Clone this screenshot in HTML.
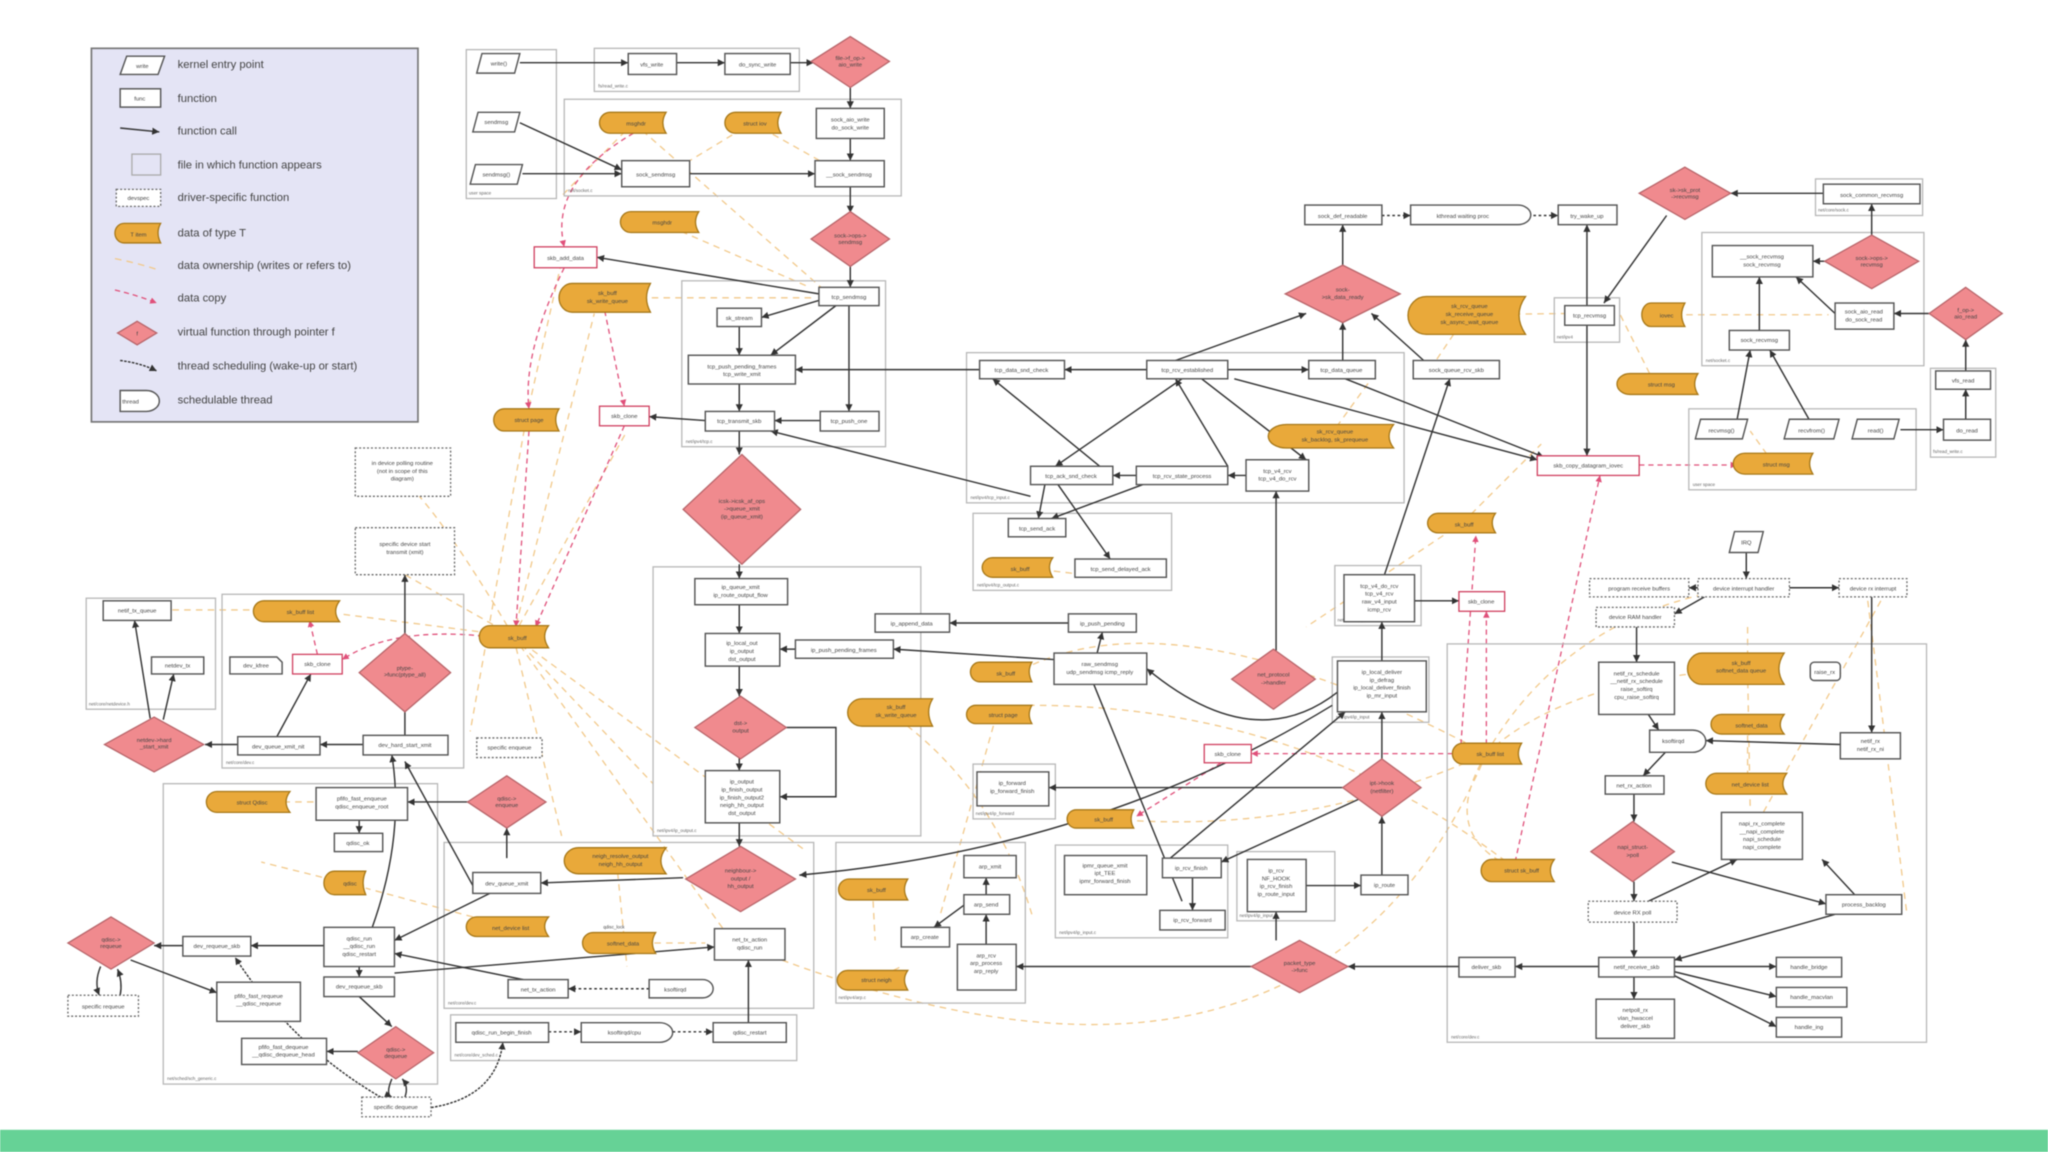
<!DOCTYPE html>
<html><head><meta charset="utf-8"><style>
html,body{margin:0;padding:0;background:#fff;width:2048px;height:1152px;overflow:hidden}
svg{display:block;filter:blur(0.6px)}
.b{fill:#fff;stroke:#555;stroke-width:1.1}
.r{fill:#fff;stroke:#d04060;stroke-width:1}
.dt{fill:#fff;stroke:#666;stroke-width:1;stroke-dasharray:1.5 1.5}
.c{fill:none;stroke:#b8b8b8;stroke-width:1}
.d{fill:#e9a93a;stroke:#a77818;stroke-width:1}
.v{fill:#f08a8e;stroke:#b8656a;stroke-width:1}
.p{fill:#fff;stroke:#555;stroke-width:1.1}
.l{stroke:#333;stroke-width:1.1;fill:none;marker-end:url(#a)}
.o{stroke:#f2c98a;stroke-width:1;fill:none;stroke-dasharray:5 4}
.x{stroke:#e0507a;stroke-width:1;fill:none;stroke-dasharray:4 3;marker-end:url(#ar)}
text{font-family:"Liberation Sans",sans-serif;font-size:4.5px;fill:#444;text-anchor:middle}
.lg{font-size:8.6px;text-anchor:start;fill:#444}
.cl{font-size:3.5px;text-anchor:start;fill:#666}
</style></head><body>
<svg width="2048" height="1152" viewBox="0 0 1568 882" xmlns="http://www.w3.org/2000/svg">
<defs>
<marker id="a" markerWidth="6" markerHeight="6" refX="5" refY="3" orient="auto"><path d="M0,0.5 L5,3 L0,5.5z" fill="#333"/></marker>
<marker id="ar" markerWidth="6" markerHeight="6" refX="5" refY="3" orient="auto"><path d="M0,0.5 L5,3 L0,5.5z" fill="#e0507a"/></marker>
</defs>
<rect width="1568" height="882" fill="#fff"/>
<rect x="0" y="865" width="1568" height="17" fill="#66d296"/>

<!-- Legend -->
<rect x="70" y="37" width="250" height="286" fill="#e4e4f5" stroke="#777" stroke-width="1.3"/>
<polygon points="92,57 121,57 126,43 97,43" class="p"/><text x="109" y="52">write</text>
<text class="lg" x="136" y="52">kernel entry point</text>
<rect x="92" y="68" width="31" height="14" class="b"/><text x="107" y="77">func</text>
<text class="lg" x="136" y="78">function</text>
<line x1="92" y1="98" x2="122" y2="101" class="l"/>
<text class="lg" x="136" y="103">function call</text>
<rect x="101" y="118" width="22" height="16" fill="none" stroke="#aaa"/>
<text class="lg" x="136" y="129">file in which function appears</text>
<rect x="89" y="145" width="34" height="13" class="dt"/><text x="106" y="153">devspec</text>
<text class="lg" x="136" y="154">driver-specific function</text>
<path d="M95,171 H123 Q119,178 123,186 H95 A7,7.5 0 0 1 95,171z" class="d"/><text x="106" y="181">T item</text>
<text class="lg" x="136" y="181">data of type T</text>
<path d="M88,198 Q108,202 122,207" class="o"/>
<text class="lg" x="136" y="206">data ownership (writes or refers to)</text>
<path d="M88,222 Q105,226 120,232" class="x"/>
<text class="lg" x="136" y="231">data copy</text>
<polygon points="105,246 120,255 105,264 90,255" class="v"/><text x="105" y="257">f</text>
<text class="lg" x="136" y="257">virtual function through pointer f</text>
<path d="M92,276 Q108,278 120,284" class="l" stroke-dasharray="2 1"/>
<text class="lg" x="136" y="283">thread scheduling (wake-up or start)</text>
<path d="M92,299 H112 A10,8 0 0 1 112,315 H92z" class="b"/><text x="100" y="309">thread</text>
<text class="lg" x="136" y="309">schedulable thread</text>

<!-- ownership dashed lines (background) -->
<g>
<path d="M393,487 Q330,380 300,360" class="o"/><path d="M393,487 L480,330" class="o"/><path d="M393,487 L455,240" class="o"/>
<path d="M393,487 L310,440" class="o"/><path d="M393,487 L500,600" class="o"/><path d="M393,487 L560,720" class="o"/>
<path d="M393,487 L260,470" class="o"/><path d="M393,487 L430,640" class="o"/><path d="M393,487 L615,650" class="o"/>
<path d="M403,320 L430,200" class="o"/><path d="M403,320 L360,560" class="o"/>
<path d="M485,94 L430,150" class="o"/><path d="M485,94 L640,230" class="o"/><path d="M576,94 L500,140" class="o"/><path d="M576,94 L640,130" class="o"/>
<path d="M505,170 L620,220" class="o"/><path d="M463,228 L625,228" class="o"/>
<path d="M1123,241 L1090,290" class="o"/><path d="M1123,241 L1200,240" class="o"/><path d="M1273,241 L1400,241" class="o"/>
<path d="M1018,334 L1050,290" class="o"/><path d="M1267,294 L1240,240" class="o"/>
<path d="M1138,577 Q1200,470 1330,450" class="o"/><path d="M1138,577 Q1200,520 1330,513" class="o"/><path d="M1138,577 Q1100,640 1160,665" class="o"/>
<path d="M1138,577 Q900,450 780,514" class="o"/><path d="M1138,577 Q1000,640 850,627" class="o"/><path d="M1138,577 Q1000,900 560,720" class="o"/>
<path d="M1160,665 Q1000,540 790,540" class="o"/><path d="M1120,400 L1180,340" class="o"/><path d="M1120,400 L1000,480" class="o"/>
<path d="M1338,513 L1340,620" class="o"/><path d="M1338,554 L1338,600" class="o"/><path d="M1338,480 L1338,500" class="o"/>
<path d="M1440,460 L1340,640" class="o"/><path d="M1430,460 L1460,700" class="o"/>
<path d="M668,681 L670,720" class="o"/><path d="M668,751 L690,740" class="o"/><path d="M472,659 L480,740" class="o"/><path d="M474,722 L540,722" class="o"/>
<path d="M388,709 L280,680" class="o"/><path d="M264,676 L200,660" class="o"/><path d="M190,614 L240,614" class="o"/>
<path d="M227,467 L110,467" class="o"/><path d="M780,434 L830,440" class="o"/><path d="M1358,355 L1340,330" class="o"/>
<path d="M680,545 Q760,600 790,700" class="o"/><path d="M763,547 L720,700" class="o"/>
</g>

<!-- data copy lines -->
<path d="M485,102 Q420,140 432,189" class="x"/>
<path d="M432,205 Q400,270 405,313" class="x"/>
<path d="M463,238 L478,311" class="x"/>
<path d="M478,326 L410,480" class="x"/>
<path d="M405,330 L395,480" class="x"/>
<path d="M370,487 Q300,480 262,505" class="x"/>
<path d="M243,501 L237,475" class="x"/>
<path d="M1255,356 L1330,356" class="x"/>
<path d="M1138,577 L1138,468" class="x"/><path d="M1118,577 L1130,410" class="x"/>
<path d="M1112,577 L958,577" class="x"/><path d="M935,584 L870,625" class="x"/>
<path d="M1160,660 L1225,364" class="x"/>

<!-- clusters -->
<rect x="357" y="38" width="69" height="114" class="c"/><text class="cl" x="359" y="149">user space</text>
<rect x="455" y="37" width="157" height="33" class="c"/><text class="cl" x="458" y="67">fs/read_write.c</text>
<rect x="432" y="76" width="258" height="74" class="c"/><text class="cl" x="435" y="147">net/socket.c</text>
<rect x="522" y="215" width="156" height="127" class="c"/><text class="cl" x="525" y="339">net/ipv4/tcp.c</text>
<rect x="740" y="270" width="335" height="115" class="c"/><text class="cl" x="743" y="382">net/ipv4/tcp_input.c</text>
<rect x="745" y="393" width="152" height="59" class="c"/><text class="cl" x="748" y="449">net/ipv4/tcp_output.c</text>
<rect x="1190" y="228" width="50" height="34" class="c"/><text class="cl" x="1192" y="259">net/ipv4</text>
<rect x="1390" y="137" width="82" height="28" class="c"/><text class="cl" x="1392" y="162">net/core/sock.c</text>
<rect x="1303" y="178" width="170" height="102" class="c"/><text class="cl" x="1306" y="277">net/socket.c</text>
<rect x="1478" y="282" width="50" height="68" class="c"/><text class="cl" x="1480" y="347">fs/read_write.c</text>
<rect x="1293" y="313" width="174" height="62" class="c"/><text class="cl" x="1296" y="372">user space</text>
<rect x="500" y="434" width="205" height="206" class="c"/><text class="cl" x="503" y="637">net/ipv4/ip_output.c</text>
<rect x="1022" y="433" width="66" height="46" class="c"/><text class="cl" x="1024" y="476">net/ipv4/tcp_ipv4.c</text>
<rect x="1020" y="503" width="74" height="50" class="c"/><text class="cl" x="1023" y="550">net/ipv4/ip_input</text>
<rect x="745" y="585" width="63" height="42" class="c"/><text class="cl" x="747" y="624">net/ipv4/ip_forward</text>
<rect x="808" y="647" width="132" height="71" class="c"/><text class="cl" x="811" y="715">net/ipv4/ip_input.c</text>
<rect x="947" y="652" width="75" height="53" class="c"/><text class="cl" x="949" y="702">net/ipv4/ip_input</text>
<rect x="640" y="645" width="145" height="123" class="c"/><text class="cl" x="642" y="765">net/ipv4/arp.c</text>
<rect x="340" y="645" width="283" height="127" class="c"/><text class="cl" x="343" y="769">net/core/dev.c</text>
<rect x="345" y="777" width="265" height="35" class="c"/><text class="cl" x="348" y="809">net/core/dev_sched.c</text>
<rect x="125" y="600" width="210" height="230" class="c"/><text class="cl" x="128" y="827">net/sched/sch_generic.c</text>
<rect x="66" y="458" width="99" height="85" class="c"/><text class="cl" x="68" y="540">net/core/netdevice.h</text>
<rect x="170" y="455" width="185" height="133" class="c"/><text class="cl" x="173" y="585">net/core/dev.c</text>
<rect x="1108" y="493" width="367" height="305" class="c"/><text class="cl" x="1111" y="795">net/core/dev.c</text>

<!-- connectors (function calls) -->
<line x1="398" y1="48" x2="481" y2="48" class="l"/><line x1="518" y1="48" x2="555" y2="48" class="l"/><line x1="605" y1="48" x2="623" y2="48" class="l"/>
<line x1="651" y1="67" x2="651" y2="83" class="l"/><line x1="651" y1="106" x2="651" y2="123" class="l"/>
<line x1="398" y1="94" x2="476" y2="130" class="l"/><line x1="400" y1="133" x2="476" y2="133" class="l"/><line x1="528" y1="133" x2="624" y2="133" class="l"/>
<line x1="651" y1="143" x2="651" y2="163" class="l"/><line x1="651" y1="203" x2="651" y2="220" class="l"/>
<line x1="627" y1="225" x2="457" y2="197" class="l"/><line x1="627" y1="230" x2="583" y2="243" class="l"/><line x1="640" y1="234" x2="590" y2="272" class="l"/>
<line x1="650" y1="234" x2="650" y2="315" class="l"/><line x1="566" y1="250" x2="566" y2="272" class="l"/><line x1="566" y1="294" x2="566" y2="315" class="l"/>
<line x1="628" y1="322" x2="593" y2="322" class="l"/><line x1="540" y1="322" x2="497" y2="319" class="l"/><line x1="750" y1="283" x2="609" y2="283" class="l"/>
<line x1="566" y1="330" x2="566" y2="348" class="l"/><line x1="566" y1="432" x2="566" y2="443" class="l"/>
<line x1="789" y1="380" x2="590" y2="330" class="l"/>
<line x1="878" y1="283" x2="815" y2="283" class="l"/><line x1="940" y1="283" x2="1002" y2="283" class="l"/>
<line x1="900" y1="276" x2="1000" y2="240" class="l"/><line x1="1028" y1="276" x2="1028" y2="247" class="l"/><line x1="1090" y1="276" x2="1050" y2="240" class="l"/>
<line x1="1028" y1="203" x2="1028" y2="172" class="l"/><line x1="1058" y1="165" x2="1080" y2="165" class="l" stroke-dasharray="2 2"/><line x1="1170" y1="165" x2="1193" y2="165" class="l" stroke-dasharray="2 2"/>
<line x1="1215" y1="234" x2="1215" y2="172" class="l"/><line x1="1215" y1="249" x2="1215" y2="349" class="l"/>
<line x1="1276" y1="165" x2="1228" y2="232" class="l"/><line x1="1396" y1="148" x2="1325" y2="148" class="l"/>
<line x1="1433" y1="180" x2="1433" y2="156" class="l"/><line x1="1397" y1="200" x2="1388" y2="200" class="l"/>
<line x1="1405" y1="240" x2="1375" y2="212" class="l"/><line x1="1347" y1="253" x2="1347" y2="212" class="l"/>
<line x1="1477" y1="240" x2="1450" y2="240" class="l"/><line x1="1505" y1="284" x2="1505" y2="260" class="l"/><line x1="1505" y1="321" x2="1505" y2="298" class="l"/>
<line x1="1455" y1="329" x2="1488" y2="329" class="l"/><line x1="1330" y1="321" x2="1340" y2="268" class="l"/><line x1="1385" y1="321" x2="1355" y2="268" class="l"/>
<line x1="905" y1="290" x2="808" y2="357" class="l"/><line x1="920" y1="290" x2="1000" y2="352" class="l"/><line x1="945" y1="290" x2="1177" y2="352" class="l"/>
<line x1="1030" y1="290" x2="1182" y2="350" class="l"/>
<line x1="870" y1="364" x2="852" y2="364" class="l"/><line x1="954" y1="364" x2="940" y2="364" class="l"/>
<line x1="842" y1="357" x2="760" y2="290" class="l"/><line x1="940" y1="357" x2="900" y2="290" class="l"/>
<line x1="875" y1="371" x2="805" y2="397" class="l"/><line x1="800" y1="371" x2="795" y2="397" class="l"/><line x1="810" y1="371" x2="850" y2="428" class="l"/>
<line x1="977" y1="498" x2="977" y2="376" class="l"/>
<line x1="1060" y1="440" x2="1110" y2="290" class="l"/><line x1="1083" y1="460" x2="1117" y2="460" class="l"/>
<line x1="566" y1="463" x2="566" y2="485" class="l"/><line x1="609" y1="497" x2="597" y2="497" class="l"/><line x1="566" y1="510" x2="566" y2="533" class="l"/>
<path d="M602,557 H640 V610 H597" class="l"/><line x1="566" y1="580" x2="566" y2="590" class="l"/><line x1="566" y1="630" x2="566" y2="648" class="l"/>
<line x1="818" y1="477" x2="727" y2="477" class="l"/><line x1="807" y1="505" x2="684" y2="497" class="l"/><line x1="840" y1="500" x2="844" y2="484" class="l"/>
<path d="M1024,530 Q960,580 878,512" class="l"/>
<line x1="1058" y1="581" x2="1058" y2="545" class="l"/><line x1="1058" y1="506" x2="1058" y2="476" class="l"/>
<line x1="1028" y1="603" x2="803" y2="603" class="l"/><line x1="1040" y1="612" x2="935" y2="660" class="l"/>
<line x1="1058" y1="670" x2="1058" y2="625" class="l"/><line x1="1000" y1="678" x2="1042" y2="678" class="l"/>
<line x1="905" y1="690" x2="835" y2="518" class="l"/>
<line x1="890" y1="662" x2="1030" y2="545" class="l"/><line x1="913" y1="672" x2="913" y2="697" class="l"/>
<line x1="977" y1="720" x2="977" y2="698" class="l"/>
<line x1="1117" y1="740" x2="1032" y2="740" class="l"/><line x1="958" y1="740" x2="778" y2="740" class="l"/>
<line x1="1224" y1="740" x2="1160" y2="740" class="l"/>
<path d="M523,672 L414,676" class="l"/>
<line x1="755" y1="723" x2="755" y2="700" class="l"/><line x1="755" y1="685" x2="755" y2="672" class="l"/><line x1="738" y1="693" x2="715" y2="710" class="l"/>
<line x1="362" y1="678" x2="310" y2="583" class="l"/><line x1="375" y1="684" x2="302" y2="720" class="l"/><line x1="388" y1="657" x2="388" y2="634" class="l"/>
<path d="M285,710 Q310,640 300,578" class="l"/>
<line x1="359" y1="614" x2="312" y2="614" class="l"/><line x1="275" y1="628" x2="275" y2="638" class="l"/>
<line x1="248" y1="724" x2="192" y2="724" class="l"/><line x1="140" y1="724" x2="118" y2="724" class="l"/>
<line x1="275" y1="740" x2="275" y2="748" class="l"/><line x1="275" y1="763" x2="300" y2="786" class="l"/><line x1="274" y1="805" x2="250" y2="805" class="l"/>
<line x1="100" y1="735" x2="166" y2="760" class="l"/>
<path d="M300,826 Q295,838 300,840" class="l"/><path d="M310,840 Q313,832 308,826" class="l"/>
<path d="M77,740 Q72,752 76,762" class="l"/><path d="M92,762 Q94,752 90,742" class="l"/>
<line x1="435" y1="757" x2="302" y2="730" class="l"/><line x1="497" y1="757" x2="435" y2="757" class="l" stroke-dasharray="2 2"/>
<path d="M302,745 Q420,735 547,725" class="l"/><line x1="573" y1="783" x2="573" y2="735" class="l"/>
<line x1="420" y1="790" x2="445" y2="790" class="l" stroke-dasharray="2 2"/><line x1="515" y1="790" x2="546" y2="790" class="l" stroke-dasharray="2 2"/>
<path d="M330,848 Q380,840 385,798" class="l" stroke-dasharray="2 1"/>
<path d="M310,850 Q230,810 180,733" class="l" stroke-dasharray="2 1"/>
<line x1="310" y1="563" x2="310" y2="440" class="l"/>
<line x1="278" y1="570" x2="245" y2="570" class="l"/><line x1="182" y1="570" x2="157" y2="570" class="l"/>
<line x1="212" y1="564" x2="238" y2="516" class="l"/><line x1="115" y1="550" x2="103" y2="475" class="l"/><line x1="125" y1="551" x2="133" y2="516" class="l"/>
<line x1="1337" y1="423" x2="1337" y2="443" class="l"/><line x1="1370" y1="450" x2="1408" y2="450" class="l"/><line x1="1300" y1="450" x2="1293" y2="450" class="l"/>
<line x1="1305" y1="457" x2="1282" y2="470" class="l"/><line x1="1253" y1="480" x2="1253" y2="507" class="l"/>
<line x1="1433" y1="457" x2="1433" y2="561" class="l"/><line x1="1409" y1="570" x2="1306" y2="567" class="l"/>
<line x1="1262" y1="547" x2="1270" y2="559" class="l"/><line x1="1275" y1="576" x2="1258" y2="594" class="l"/>
<line x1="1251" y1="608" x2="1251" y2="629" class="l"/><line x1="1251" y1="675" x2="1251" y2="690" class="l"/><line x1="1251" y1="706" x2="1251" y2="733" class="l"/>
<line x1="1280" y1="660" x2="1398" y2="692" class="l"/><line x1="1262" y1="690" x2="1330" y2="658" class="l"/><line x1="1420" y1="685" x2="1395" y2="658" class="l"/>
<line x1="1405" y1="700" x2="1282" y2="735" class="l"/>
<line x1="1282" y1="740" x2="1360" y2="740" class="l"/><line x1="1282" y1="744" x2="1360" y2="763" class="l"/><line x1="1282" y1="747" x2="1360" y2="786" class="l"/>
<line x1="1251" y1="748" x2="1251" y2="765" class="l"/>
<path d="M1020,540 Q840,650 612,670" class="l"/>

<!-- top-left nodes -->
<polygon points="365,56 394,56 398,41 369,41" class="p"/><text x="382" y="50">write()</text>
<polygon points="362,101 394,101 398,86 366,86" class="p"/><text x="380" y="95">sendmsg</text>
<polygon points="360,141 396,141 400,126 364,126" class="p"/><text x="380" y="135">sendmsg()</text>
<rect x="481" y="41" width="37" height="16" class="b"/><text x="499" y="51">vfs_write</text>
<rect x="555" y="41" width="50" height="16" class="b"/><text x="580" y="51">do_sync_write</text>
<polygon points="651,28 681,47 651,67 621,47" class="v"/><text x="651" y="46">file-&gt;f_op-&gt;</text><text x="651" y="51">aio_write</text>
<path d="M467,86 H510 Q505,94 510,102 H467 A8,8 0 0 1 467,86z" class="d"/><text x="487" y="96">msghdr</text>
<path d="M563,86 H598 Q593,94 598,102 H563 A8,8 0 0 1 563,86z" class="d"/><text x="578" y="96">struct iov</text>
<rect x="625" y="83" width="52" height="23" class="b"/><text x="651" y="93">sock_aio_write</text><text x="651" y="99">do_sock_write</text>
<rect x="476" y="123" width="52" height="20" class="b"/><text x="502" y="135">sock_sendmsg</text>
<rect x="624" y="123" width="53" height="20" class="b"/><text x="650" y="135">__sock_sendmsg</text>
<polygon points="651,162 681,183 651,204 621,183" class="v"/><text x="651" y="182">sock-&gt;ops-&gt;</text><text x="651" y="187">sendmsg</text>
<path d="M483,162 H535 Q530,170 535,178 H483 A8,8 0 0 1 483,162z" class="d"/><text x="507" y="172">msghdr</text>
<rect x="409" y="189" width="48" height="16" class="r"/><text x="433" y="199">skb_add_data</text>
<path d="M438,217 H498 Q492,228 498,239 H438 A10,11 0 0 1 438,217z" class="d"/><text x="465" y="226">sk_buff</text><text x="465" y="232">sk_write_queue</text>
<rect x="627" y="220" width="46" height="14" class="b"/><text x="650" y="229">tcp_sendmsg</text>
<rect x="549" y="236" width="34" height="14" class="b"/><text x="566" y="245">sk_stream</text>
<rect x="527" y="272" width="82" height="22" class="b"/><text x="568" y="282">tcp_push_pending_frames</text><text x="568" y="288">tcp_write_xmit</text>
<rect x="540" y="315" width="53" height="15" class="b"/><text x="566" y="324">tcp_transmit_skb</text>
<rect x="628" y="315" width="45" height="15" class="b"/><text x="650" y="324">tcp_push_one</text>
<path d="M386,313 H428 Q423,321 428,330 H386 A8,8.5 0 0 1 386,313z" class="d"/><text x="405" y="323">struct page</text>
<rect x="459" y="311" width="38" height="15" class="r"/><text x="478" y="320">skb_clone</text>
<polygon points="568,348 613,390 568,432 523,390" class="v"/><text x="568" y="385">icsk-&gt;icsk_af_ops</text><text x="568" y="391">-&gt;queue_xmit</text><text x="568" y="397">(ip_queue_xmit)</text>
<rect x="272" y="343" width="73" height="37" class="dt"/><text x="308" y="356">in device polling routine</text><text x="308" y="362">(not in scope of this</text><text x="308" y="368">diagram)</text>
<rect x="272" y="404" width="76" height="36" class="dt"/><text x="310" y="418">specific device start</text><text x="310" y="424">transmit (xmit)</text>

<!-- tcp input cluster -->
<rect x="750" y="276" width="65" height="14" class="b"/><text x="782" y="285">tcp_data_snd_check</text>
<rect x="878" y="276" width="62" height="14" class="b"/><text x="909" y="285">tcp_rcv_established</text>
<rect x="1002" y="276" width="51" height="14" class="b"/><text x="1027" y="285">tcp_data_queue</text>
<rect x="1082" y="276" width="66" height="14" class="b"/><text x="1115" y="285">sock_queue_rcv_skb</text>
<rect x="789" y="357" width="63" height="14" class="b"/><text x="820" y="366">tcp_ack_snd_check</text>
<rect x="870" y="357" width="70" height="14" class="b"/><text x="905" y="366">tcp_rcv_state_process</text>
<rect x="954" y="352" width="48" height="24" class="b"/><text x="978" y="362">tcp_v4_rcv</text><text x="978" y="368">tcp_v4_do_rcv</text>
<path d="M985,325 H1067 Q1060,334 1067,343 H985 A14,9 0 0 1 985,325z" class="d"/><text x="1022" y="332">sk_rcv_queue</text><text x="1022" y="338">sk_backlog, sk_prequeue</text>
<rect x="772" y="397" width="44" height="14" class="b"/><text x="794" y="406">tcp_send_ack</text>
<rect x="823" y="428" width="70" height="14" class="b"/><text x="858" y="437">tcp_send_delayed_ack</text>
<path d="M760,427 H806 Q801,434 806,442 H760 A8,7.5 0 0 1 760,427z" class="d"/><text x="781" y="437">sk_buff</text>
<polygon points="1028,203 1072,225 1028,247 984,225" class="v"/><text x="1028" y="223">sock-</text><text x="1028" y="229">&gt;sk_data_ready</text>
<rect x="999" y="157" width="59" height="15" class="b"/><text x="1028" y="167">sock_def_readable</text>
<path d="M1080,157 H1162 A10,7.5 0 0 1 1162,172 H1080z" class="b"/><text x="1120" y="167">kthread waiting proc</text>
<rect x="1193" y="157" width="45" height="15" class="b"/><text x="1215" y="167">try_wake_up</text>
<path d="M1092,227 H1168 Q1158,241 1168,256 H1092 A14,14.5 0 0 1 1092,227z" class="d"/><text x="1125" y="236">sk_rcv_queue</text><text x="1125" y="242">sk_receive_queue</text><text x="1125" y="248">sk_async_wait_queue</text>
<rect x="1198" y="234" width="38" height="15" class="b"/><text x="1217" y="243">tcp_recvmsg</text>
<path d="M1264,232 H1290 Q1285,241 1290,250 H1264 A7,9 0 0 1 1264,232z" class="d"/><text x="1276" y="243">iovec</text>
<path d="M1248,286 H1300 Q1295,294 1300,302 H1248 A10,8 0 0 1 1248,286z" class="d"/><text x="1272" y="296">struct msg</text>
<polygon points="1290,128 1325,148 1290,168 1255,148" class="v"/><text x="1290" y="147">sk-&gt;sk_prot</text><text x="1290" y="152">-&gt;recvmsg</text>
<rect x="1396" y="141" width="74" height="15" class="b"/><text x="1433" y="151">sock_common_recvmsg</text>
<rect x="1311" y="188" width="77" height="24" class="b"/><text x="1349" y="198">__sock_recvmsg</text><text x="1349" y="204">sock_recvmsg</text>
<polygon points="1433,180 1469,200 1433,221 1397,200" class="v"/><text x="1433" y="199">sock-&gt;ops-&gt;</text><text x="1433" y="204">recvmsg</text>
<rect x="1405" y="232" width="45" height="20" class="b"/><text x="1427" y="240">sock_aio_read</text><text x="1427" y="246">do_sock_read</text>
<rect x="1324" y="253" width="46" height="15" class="b"/><text x="1347" y="262">sock_recvmsg</text>
<polygon points="1505,220 1533,240 1505,260 1477,240" class="v"/><text x="1505" y="239">f_op-&gt;</text><text x="1505" y="244">aio_read</text>
<rect x="1482" y="284" width="42" height="14" class="b"/><text x="1503" y="293">vfs_read</text>
<rect x="1488" y="321" width="36" height="16" class="b"/><text x="1506" y="331">do_read</text>
<polygon points="1298,336 1334,336 1338,321 1302,321" class="p"/><text x="1318" y="331">recvmsg()</text>
<polygon points="1366,336 1404,336 1408,321 1370,321" class="p"/><text x="1387" y="331">recvfrom()</text>
<polygon points="1418,336 1450,336 1454,321 1422,321" class="p"/><text x="1436" y="331">read()</text>
<path d="M1336,347 H1388 Q1383,355 1388,363 H1336 A9,8 0 0 1 1336,347z" class="d"/><text x="1360" y="357">struct msg</text>
<rect x="1177" y="349" width="78" height="15" class="r"/><text x="1216" y="358">skb_copy_datagram_iovec</text>

<!-- middle ip -->
<rect x="532" y="443" width="71" height="20" class="b"/><text x="567" y="451">ip_queue_xmit</text><text x="567" y="457">ip_route_output_flow</text>
<rect x="540" y="485" width="57" height="25" class="b"/><text x="568" y="494">ip_local_out</text><text x="568" y="500">ip_output</text><text x="568" y="506">dst_output</text>
<rect x="609" y="490" width="75" height="14" class="b"/><text x="646" y="499">ip_push_pending_frames</text>
<polygon points="567,533 602,557 567,581 532,557" class="v"/><text x="567" y="555">dst-&gt;</text><text x="567" y="561">output</text>
<rect x="540" y="590" width="57" height="40" class="b"/><text x="568" y="600">ip_output</text><text x="568" y="606">ip_finish_output</text><text x="568" y="612">ip_finish_output2</text><text x="568" y="618">neigh_hh_output</text><text x="568" y="624">dst_output</text>
<rect x="670" y="470" width="57" height="14" class="b"/><text x="698" y="479">ip_append_data</text>
<rect x="818" y="470" width="52" height="14" class="b"/><text x="844" y="479">ip_push_pending</text>
<rect x="807" y="500" width="71" height="24" class="b"/><text x="842" y="510">raw_sendmsg</text><text x="842" y="516">udp_sendmsg icmp_reply</text>
<path d="M750,507 H790 Q786,514 790,522 H750 A7,7.5 0 0 1 750,507z" class="d"/><text x="770" y="517">sk_buff</text>
<path d="M747,540 H790 Q786,547 790,554 H747 A7,7 0 0 1 747,540z" class="d"/><text x="768" y="549">struct page</text>
<path d="M660,535 H714 Q708,545 714,556 H660 A11,10.5 0 0 1 660,535z" class="d"/><text x="686" y="543">sk_buff</text><text x="686" y="549">sk_write_queue</text>
<polygon points="975,497 1007,520 975,543 943,520" class="v"/><text x="975" y="518">net_protocol</text><text x="975" y="524">-&gt;handler</text>
<rect x="1029" y="440" width="54" height="36" class="b"/><text x="1056" y="450">tcp_v4_do_rcv</text><text x="1056" y="456">tcp_v4_rcv</text><text x="1056" y="462">raw_v4_input</text><text x="1056" y="468">icmp_rcv</text>
<rect x="1024" y="506" width="68" height="39" class="b"/><text x="1058" y="516">ip_local_deliver</text><text x="1058" y="522">ip_defrag</text><text x="1058" y="528">ip_local_deliver_finish</text><text x="1058" y="534">ip_mr_input</text>
<rect x="1117" y="453" width="35" height="15" class="r"/><text x="1134" y="462">skb_clone</text>
<path d="M1101,393 H1145 Q1140,400 1145,408 H1101 A8,7.5 0 0 1 1101,393z" class="d"/><text x="1121" y="403">sk_buff</text>
<rect x="922" y="570" width="36" height="14" class="r"/><text x="940" y="579">skb_clone</text>
<path d="M1120,569 H1165 Q1160,577 1165,585 H1120 A8,8 0 0 1 1120,569z" class="d"/><text x="1141" y="579">sk_buff list</text>
<polygon points="1058,581 1088,603 1058,625 1028,603" class="v"/><text x="1058" y="601">ipt-&gt;hook</text><text x="1058" y="607">(netfilter)</text>
<path d="M824,620 H868 Q864,627 868,634 H824 A7,7 0 0 1 824,620z" class="d"/><text x="845" y="629">sk_buff</text>
<rect x="748" y="591" width="55" height="26" class="b"/><text x="775" y="601">ip_forward</text><text x="775" y="607">ip_forward_finish</text>
<rect x="815" y="655" width="63" height="30" class="b"/><text x="846" y="664">ipmr_queue_xmit</text><text x="846" y="670">ipt_TEE</text><text x="846" y="676">ipmr_forward_finish</text>
<rect x="890" y="657" width="45" height="15" class="b"/><text x="912" y="666">ip_rcv_finish</text>
<rect x="888" y="697" width="50" height="15" class="b"/><text x="913" y="706">ip_rcv_forward</text>
<rect x="955" y="658" width="45" height="40" class="b"/><text x="977" y="668">ip_rcv</text><text x="977" y="674">NF_HOOK</text><text x="977" y="680">ip_rcv_finish</text><text x="977" y="686">ip_route_input</text>
<rect x="1042" y="670" width="36" height="15" class="b"/><text x="1060" y="679">ip_route</text>
<polygon points="995,720 1032,740 995,760 958,740" class="v"/><text x="995" y="739">packet_type</text><text x="995" y="744">-&gt;func</text>
<rect x="738" y="655" width="40" height="17" class="b"/><text x="758" y="665">arp_xmit</text>
<rect x="738" y="685" width="35" height="15" class="b"/><text x="755" y="694">arp_send</text>
<rect x="690" y="710" width="37" height="15" class="b"/><text x="708" y="719">arp_create</text>
<rect x="733" y="723" width="45" height="35" class="b"/><text x="755" y="733">arp_rcv</text><text x="755" y="739">arp_process</text><text x="755" y="745">arp_reply</text>
<path d="M650,673 H695 Q690,681 695,689 H650 A8,8 0 0 1 650,673z" class="d"/><text x="671" y="683">sk_buff</text>
<path d="M649,743 H695 Q690,750 695,758 H649 A8,7.5 0 0 1 649,743z" class="d"/><text x="671" y="752">struct neigh</text>

<!-- dev.c lower -->
<rect x="362" y="668" width="52" height="16" class="b"/><text x="388" y="678">dev_queue_xmit</text>
<path d="M443,649 H510 Q502,659 510,669 H443 A11,10 0 0 1 443,649z" class="d"/><text x="475" y="657">neigh_resolve_output</text><text x="475" y="663">neigh_hh_output</text>
<polygon points="567,648 609,673 567,698 525,673" class="v"/><text x="567" y="668">neighbour-&gt;</text><text x="567" y="674">output /</text><text x="567" y="680">hh_output</text>
<path d="M365,702 H420 Q414,709 420,717 H365 A8,7.5 0 0 1 365,702z" class="d"/><text x="391" y="712">net_device list</text>
<path d="M454,714 H502 Q497,722 502,730 H454 A8,8 0 0 1 454,714z" class="d"/><text x="477" y="724">softnet_data</text>
<rect x="547" y="711" width="54" height="24" class="b"/><text x="574" y="721">net_tx_action</text><text x="574" y="727">qdisc_run</text>
<rect x="389" y="750" width="46" height="14" class="b"/><text x="412" y="759">net_tx_action</text>
<path d="M497,750 H538 A8,7 0 0 1 538,764 H497z" class="b"/><text x="517" y="759">ksoftirqd</text>
<text x="470" y="711" style="font-size:3.5px">qdisc_lock</text>
<rect x="349" y="783" width="71" height="15" class="b"/><text x="384" y="792">qdisc_run_begin_finish</text>
<path d="M445,783 H505 A10,7.5 0 0 1 505,798 H445z" class="b"/><text x="478" y="792">ksoftirqd/cpu</text>
<rect x="546" y="783" width="56" height="15" class="b"/><text x="574" y="792">qdisc_restart</text>

<!-- sched generic -->
<path d="M166,606 H222 Q216,614 222,622 H166 A8,8 0 0 1 166,606z" class="d"/><text x="193" y="616">struct Qdisc</text>
<rect x="242" y="603" width="70" height="25" class="b"/><text x="277" y="613">pfifo_fast_enqueue</text><text x="277" y="619">qdisc_enqueue_root</text>
<rect x="256" y="638" width="37" height="14" class="b"/><text x="274" y="647">qdisc_ok</text>
<path d="M256,667 H280 Q276,676 280,685 H256 A8,9 0 0 1 256,667z" class="d"/><text x="268" y="678">qdisc</text>
<rect x="248" y="710" width="54" height="30" class="b"/><text x="275" y="720">qdisc_run</text><text x="275" y="726">__qdisc_run</text><text x="275" y="732">qdisc_restart</text>
<rect x="248" y="748" width="54" height="15" class="b"/><text x="275" y="757">dev_requeue_skb</text>
<rect x="140" y="717" width="52" height="15" class="b"/><text x="166" y="726">dev_requeue_skb</text>
<rect x="166" y="752" width="64" height="30" class="b"/><text x="198" y="764">pfifo_fast_requeue</text><text x="198" y="770">__qdisc_requeue</text>
<rect x="185" y="795" width="65" height="20" class="b"/><text x="217" y="803">pfifo_fast_dequeue</text><text x="217" y="809">__qdisc_dequeue_head</text>
<polygon points="303,786 332,806 303,826 274,806" class="v"/><text x="303" y="805">qdisc-&gt;</text><text x="303" y="810">dequeue</text>
<rect x="277" y="840" width="53" height="15" class="dt"/><text x="303" y="849">specific dequeue</text>
<polygon points="388,594 418,614 388,634 358,614" class="v"/><text x="388" y="613">qdisc-&gt;</text><text x="388" y="618">enqueue</text>
<rect x="365" y="565" width="50" height="15" class="dt"/><text x="390" y="574">specific enqueue</text>
<polygon points="85,702 118,722 85,742 52,722" class="v"/><text x="85" y="721">qdisc-&gt;</text><text x="85" y="726">requeue</text>
<rect x="52" y="762" width="54" height="16" class="dt"/><text x="79" y="772">specific requeue</text>
<rect x="79" y="460" width="52" height="15" class="b"/><text x="105" y="469">netif_tx_queue</text>
<rect x="116" y="503" width="40" height="13" class="b"/><text x="136" y="511">netdev_tx</text>
<polygon points="118,549 156,570 118,591 80,570" class="v"/><text x="118" y="568">netdev-&gt;hard</text><text x="118" y="573">_start_xmit</text>
<path d="M202,460 H260 Q254,468 260,476 H202 A8,8 0 0 1 202,460z" class="d"/><text x="230" y="470">sk_buff list</text>
<path d="M176,503 H212 L216,507 V516 H176z" class="b"/><text x="196" y="511">dev_kfree</text>
<rect x="224" y="501" width="38" height="15" class="r"/><text x="243" y="510">skb_clone</text>
<polygon points="310,485 345,515 310,545 275,515" class="v"/><text x="310" y="513">ptype-</text><text x="310" y="518">&gt;func(ptype_all)</text>
<rect x="182" y="564" width="63" height="14" class="b"/><text x="213" y="573">dev_queue_xmit_nit</text>
<rect x="278" y="563" width="65" height="15" class="b"/><text x="310" y="572">dev_hard_start_xmit</text>
<path d="M375,479 H420 Q414,487 420,496 H375 A8,8.5 0 0 1 375,479z" class="d"/><text x="396" y="490">sk_buff</text>

<!-- right bottom -->
<polygon points="1324,423 1346,423 1350,407 1328,407" class="p"/><text x="1337" y="417">IRQ</text>
<rect x="1217" y="443" width="76" height="14" class="dt"/><text x="1255" y="452">program receive buffers</text>
<rect x="1300" y="443" width="70" height="14" class="dt"/><text x="1335" y="452">device interrupt handler</text>
<rect x="1408" y="443" width="52" height="14" class="dt"/><text x="1434" y="452">device rx interrupt</text>
<rect x="1222" y="465" width="60" height="15" class="dt"/><text x="1252" y="474">device RAM handler</text>
<rect x="1224" y="507" width="58" height="40" class="b"/><text x="1253" y="517">netif_rx_schedule</text><text x="1253" y="523">__netif_rx_schedule</text><text x="1253" y="529">raise_softirq</text><text x="1253" y="535">cpu_raise_softirq</text>
<path d="M1303,500 H1366 Q1358,512 1366,524 H1303 A11,12 0 0 1 1303,500z" class="d"/><text x="1333" y="509">sk_buff</text><text x="1333" y="515">softnet_data queue</text>
<rect x="1386" y="507" width="23" height="14" rx="3" class="b"/><text x="1397" y="516">raise_rx</text>
<path d="M1318,547 H1366 Q1360,555 1366,562 H1318 A8,7.5 0 0 1 1318,547z" class="d"/><text x="1341" y="557">softnet_data</text>
<path d="M1263,559 H1296 A10,8.5 0 0 1 1296,576 H1263z" class="b"/><text x="1281" y="569">ksoftirqd</text>
<rect x="1409" y="561" width="46" height="20" class="b"/><text x="1432" y="569">netif_rx</text><text x="1432" y="575">netif_rx_ni</text>
<rect x="1229" y="594" width="45" height="14" class="b"/><text x="1251" y="603">net_rx_action</text>
<path d="M1314,592 H1368 Q1362,600 1368,608 H1314 A8,8 0 0 1 1314,592z" class="d"/><text x="1340" y="602">net_device list</text>
<rect x="1318" y="622" width="62" height="36" class="b"/><text x="1349" y="632">napi_rx_complete</text><text x="1349" y="638">__napi_complete</text><text x="1349" y="644">napi_schedule</text><text x="1349" y="650">napi_complete</text>
<polygon points="1250,629 1282,652 1250,675 1218,652" class="v"/><text x="1250" y="650">napi_struct-</text><text x="1250" y="656">&gt;poll</text>
<rect x="1398" y="685" width="58" height="15" class="b"/><text x="1427" y="694">process_backlog</text>
<rect x="1216" y="690" width="68" height="16" class="dt"/><text x="1250" y="700">device RX poll</text>
<rect x="1224" y="733" width="58" height="15" class="b"/><text x="1253" y="742">netif_receive_skb</text>
<rect x="1117" y="733" width="43" height="15" class="b"/><text x="1138" y="742">deliver_skb</text>
<rect x="1360" y="733" width="50" height="15" class="b"/><text x="1385" y="742">handle_bridge</text>
<rect x="1360" y="756" width="54" height="15" class="b"/><text x="1387" y="765">handle_macvlan</text>
<rect x="1360" y="779" width="50" height="15" class="b"/><text x="1385" y="788">handle_ing</text>
<rect x="1222" y="765" width="60" height="30" class="b"/><text x="1252" y="775">netpoll_rx</text><text x="1252" y="781">vlan_hwaccel</text><text x="1252" y="787">deliver_skb</text>
<path d="M1142,658 H1190 Q1184,666 1190,675 H1142 A8,8.5 0 0 1 1142,658z" class="d"/><text x="1165" y="668">struct sk_buff</text>
</svg>
</body></html>
